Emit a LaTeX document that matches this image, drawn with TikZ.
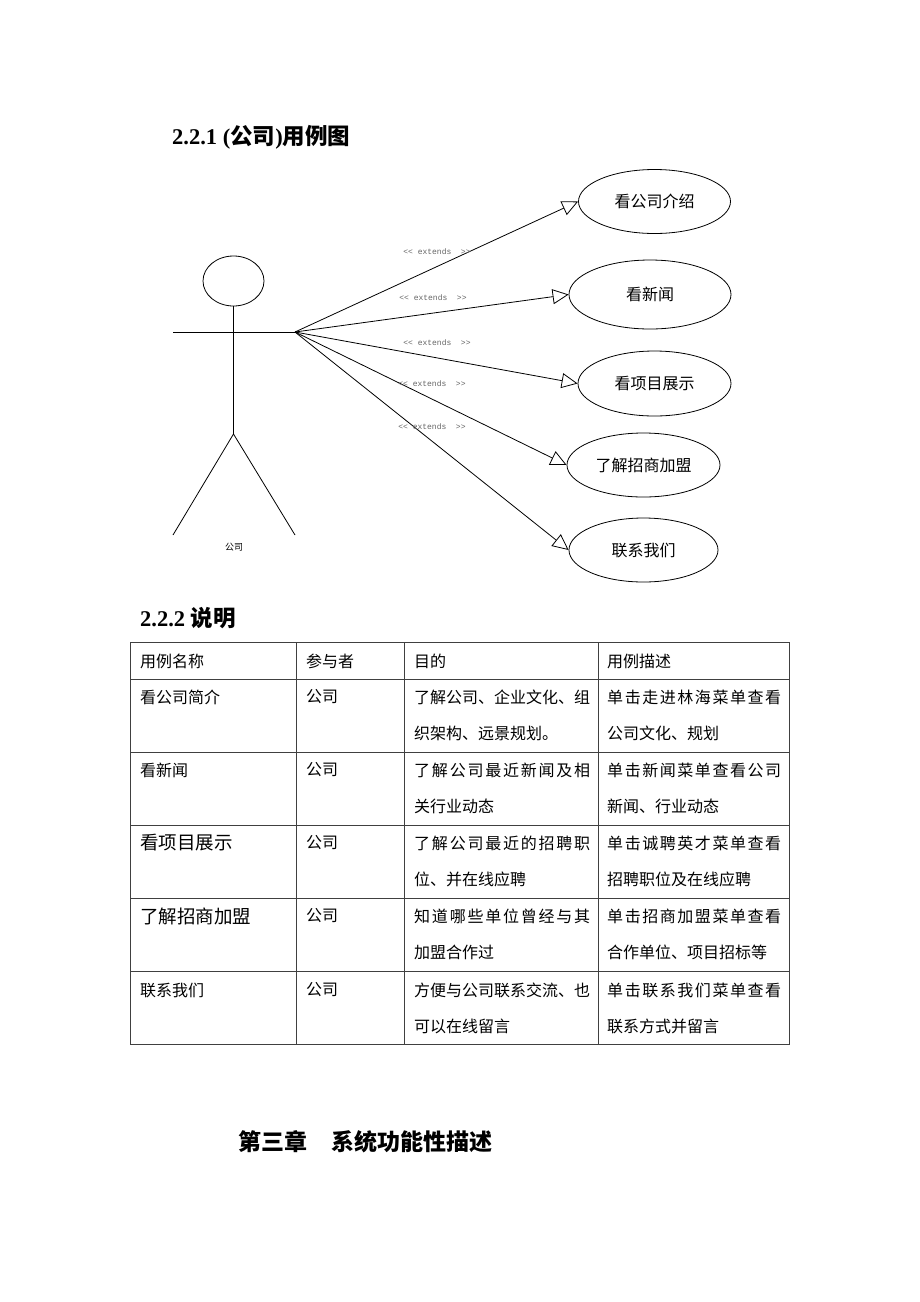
\documentclass[tikz,border=0pt]{standalone}
\usepackage{fontspec}
\setmainfont{Liberation Serif}
\newfontfamily\cjk{Noto Sans CJK SC}
\newfontfamily\mono{Liberation Mono}
\usetikzlibrary{shapes.geometric,arrows.meta}
\def\sprd#1{\sprdi#1\relax}
\def\sprdi#1{#1\futurelet\sprdnext\sprdii}
\def\sprdii{\ifx\sprdnext\relax\expandafter\sprdgobble\else\hfill\expandafter\sprdi\fi}
\def\sprdgobble#1{}
\begin{document}
\begin{tikzpicture}[x=1pt,y=-1pt,
  uc/.style={draw,ellipse,inner sep=0pt,line width=0.8pt,font=\cjk\fontsize{16}{19}\selectfont},
  ext/.style={font=\mono\fontsize{8}{10}\selectfont,text=black!60,inner sep=0pt},
  rel/.style={-{Triangle[open,length=16pt,width=15pt]},line width=0.8pt},
  stick/.style={line width=0.8pt},
  cell/.style={anchor=west,inner sep=0pt,font=\cjk\fontsize{16}{19}\selectfont},
  bigcell/.style={anchor=west,inner sep=0pt,font=\cjk\fontsize{18.5}{22}\selectfont},
  gridline/.style={draw=black!75,line width=0.9pt},
  head/.style={anchor=west,inner sep=0pt,font=\fontsize{22.5}{26}\selectfont\bfseries}]
\useasboundingbox[fill=white] (0,0) rectangle (920,1302);

% headings
\node[head] (h1) at (172,137) {2.2.1 ({\cjk\bfseries 公司}){\cjk\bfseries 用例图}};
\node[head] (h2) at (140,618) {2.2.2 {\cjk\bfseries 说明}};
\node[anchor=west,inner sep=0pt,font=\cjk\bfseries\fontsize{23}{26}\selectfont] (h3) at (238,1142) {第三章\hspace{24pt}系统功能性描述};

% actor
\node[draw,ellipse,line width=0.8pt,minimum width=61pt,minimum height=50pt,inner sep=0pt] (headc) at (233.5,281) {};
\coordinate (hip) at (233.5,434);
\coordinate (lhand) at (173,332);
\coordinate (hand) at (295,332);
\coordinate (lfoot) at (173,535);
\coordinate (rfoot) at (295,535);
\draw[stick] (headc.south) -- (hip);
\draw[stick] (lhand) -- (hand);
\draw[stick] (lfoot) -- (hip) -- (rfoot);
\node[inner sep=0pt,font=\cjk\fontsize{9}{11}\selectfont] (actor) at (234,547) {公司};

% use cases
\node[uc,minimum width=152pt,minimum height=64pt] (u1) at (654.5,201.5) {看公司介绍};
\node[uc,minimum width=162pt,minimum height=69pt] (u2) at (650,294.5) {看新闻};
\node[uc,minimum width=153pt,minimum height=65pt] (u3) at (654.5,383.5) {看项目展示};
\node[uc,minimum width=153pt,minimum height=64pt] (u4) at (643.5,465) {了解招商加盟};
\node[uc,minimum width=149pt,minimum height=64pt] (u5) at (643.5,550) {联系我们};

\draw[rel] (hand) -- (u1.west);
\draw[rel] (hand) -- (u2.west);
\draw[rel] (hand) -- (u3.west);
\draw[rel] (hand) -- (u4.west);
\draw[rel] (hand) -- (u5.west);

\node[ext] (e1) at (437,252) {<\kern0pt< extends \ >\kern0pt>};
\node[ext] (e2) at (433,298) {<\kern0pt< extends \ >\kern0pt>};
\node[ext] (e3) at (437,343) {<\kern0pt< extends \ >\kern0pt>};
\node[ext] (e4) at (432,384) {<\kern0pt< extends \ >\kern0pt>};
\node[ext] (e5) at (432,427) {<\kern0pt< extends \ >\kern0pt>};

% table grid
\draw[gridline] (130,642) rectangle (789,1044);
\foreach \x in {296,404,598} \draw[gridline] (\x,642) -- (\x,1044);
\foreach \y in {679,752,825,898,971} \draw[gridline] (130,\y) -- (789,\y);

% header
\node[cell] (t00) at (140,661) {用例名称};
\node[cell] (t01) at (306,661) {参与者};
\node[cell] (t02) at (414,661) {目的};
\node[cell] (t03) at (607,661) {用例描述};

% row 1
\node[cell] (t10) at (140,697) {看公司简介};
\node[cell] (t11) at (306,697) {公司};
\node[cell] (t12) at (414,697) {\hbox to 176pt{\sprd{了解公司、企业文化、组}}};
\node[cell] (t12b) at (414,733) {织架构、远景规划。};
\node[cell] (t13) at (607,697) {\hbox to 174pt{\sprd{单击走进林海菜单查看}}};
\node[cell] (t13b) at (607,733) {公司文化、规划};

% row 2
\node[cell] (t20) at (140,770) {看新闻};
\node[cell] (t21) at (306,770) {公司};
\node[cell] (t22) at (414,770) {\hbox to 176pt{\sprd{了解公司最近新闻及相}}};
\node[cell] (t22b) at (414,806) {关行业动态};
\node[cell] (t23) at (607,770) {\hbox to 174pt{\sprd{单击新闻菜单查看公司}}};
\node[cell] (t23b) at (607,806) {新闻、行业动态};

% row 3
\node[bigcell] (t30) at (140,843) {看项目展示};
\node[cell] (t31) at (306,843) {公司};
\node[cell] (t32) at (414,843) {\hbox to 176pt{\sprd{了解公司最近的招聘职}}};
\node[cell] (t32b) at (414,879) {位、并在线应聘};
\node[cell] (t33) at (607,843) {\hbox to 174pt{\sprd{单击诚聘英才菜单查看}}};
\node[cell] (t33b) at (607,879) {招聘职位及在线应聘};

% row 4
\node[bigcell] (t40) at (140,916) {了解招商加盟};
\node[cell] (t41) at (306,916) {公司};
\node[cell] (t42) at (414,916) {\hbox to 176pt{\sprd{知道哪些单位曾经与其}}};
\node[cell] (t42b) at (414,952) {加盟合作过};
\node[cell] (t43) at (607,916) {\hbox to 174pt{\sprd{单击招商加盟菜单查看}}};
\node[cell] (t43b) at (607,952) {合作单位、项目招标等};

% row 5
\node[cell] (t50) at (140,990) {联系我们};
\node[cell] (t51) at (306,990) {公司};
\node[cell] (t52) at (414,990) {\hbox to 176pt{\sprd{方便与公司联系交流、也}}};
\node[cell] (t52b) at (414,1026) {可以在线留言};
\node[cell] (t53) at (607,990) {\hbox to 174pt{\sprd{单击联系我们菜单查看}}};
\node[cell] (t53b) at (607,1026) {联系方式并留言};
\end{tikzpicture}
\end{document}
